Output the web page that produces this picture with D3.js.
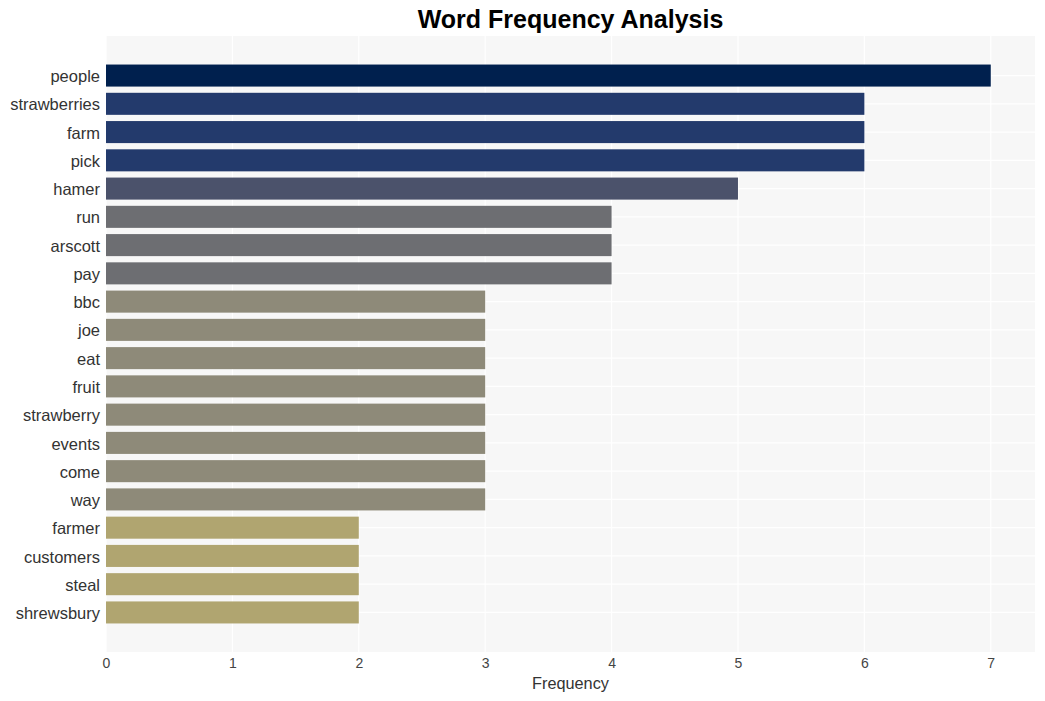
<!DOCTYPE html>
<html>
<head>
<meta charset="utf-8">
<script src="https://cdn.jsdelivr.net/npm/d3@7"></script>
<style>
  body { margin: 0; background: #fff; }
  svg { display: block; font-family: "Liberation Sans", Arial, sans-serif; }
</style>
</head>
<body>
<svg id="chart" width="1045" height="701"></svg>
<script>
const words = ["people","strawberries","farm","pick","hamer","run","arscott","pay","bbc","joe","eat","fruit","strawberry","events","come","way","farmer","customers","steal","shrewsbury"];
const counts = [7,6,6,6,5,4,4,4,3,3,3,3,3,3,3,3,2,2,2,2];
const xTicks = [0,1,2,3,4,5,6,7];
const freqLevels = [7,6,5,4,3,2];
const levelColors = ["#00204e","#233a6c","#4b526b","#6d6e72","#8e8a79","#b0a570"];

(function () {
const data = words.map((w,i) => ({word: w, count: counts[i]}));

const svg = d3.select("#chart");
const pLeft = 106, pRight = 1035, pTop = 36, pBottom = 652;

const x = d3.scaleLinear().domain([0, 7.35]).range([pLeft, pRight]);
const y = d3.scaleBand().domain(words).range([pTop, pBottom]).paddingInner(0.22).paddingOuter(1.01);
const color = d3.scaleOrdinal().domain(freqLevels).range(levelColors);

// panel
svg.append("rect").attr("x", pLeft).attr("y", pTop).attr("width", pRight-pLeft).attr("height", pBottom-pTop).attr("fill", "#f7f7f7");

// grid
svg.append("g").selectAll("line").data(xTicks).join("line")
  .attr("x1", d => x(d)).attr("x2", d => x(d)).attr("y1", pTop).attr("y2", pBottom)
  .attr("stroke", "#ffffff").attr("stroke-width", 1.2);
svg.append("g").selectAll("line").data(words).join("line")
  .attr("x1", pLeft).attr("x2", pRight)
  .attr("y1", d => y(d) + y.bandwidth()/2).attr("y2", d => y(d) + y.bandwidth()/2)
  .attr("stroke", "#ffffff").attr("stroke-width", 1.2);

// bars
svg.append("g").selectAll("rect").data(data).join("rect")
  .attr("x", x(0)).attr("y", d => y(d.word))
  .attr("width", d => x(d.count) - x(0)).attr("height", y.bandwidth())
  .attr("fill", d => color(d.count));

// x axis
const xAxis = svg.append("g").attr("transform", `translate(0,${pBottom})`)
  .call(d3.axisBottom(x).tickValues(xTicks).tickSize(0).tickPadding(6).tickFormat(d3.format("d")));
xAxis.select(".domain").remove();
xAxis.selectAll("text").attr("font-size", 14).attr("fill", "#444").attr("font-family", "Liberation Sans, Arial, sans-serif");

// y axis
const yAxis = svg.append("g").attr("transform", `translate(${pLeft},0)`)
  .call(d3.axisLeft(y).tickSize(0).tickPadding(6));
yAxis.select(".domain").remove();
yAxis.selectAll("text").attr("font-size", 16.5).attr("dy", "0.4em").attr("fill", "#333").attr("font-family", "Liberation Sans, Arial, sans-serif");

// axis title
svg.append("text").attr("x", (pLeft+pRight)/2).attr("y", 689).attr("text-anchor", "middle")
  .attr("font-size", 16.3).attr("fill", "#333").text("Frequency");

// title
svg.append("text").attr("x", (pLeft+pRight)/2).attr("y", 28).attr("text-anchor", "middle")
  .attr("font-size", 25).attr("font-weight", "bold").attr("fill", "#000").text("Word Frequency Analysis");
})();
</script>
</body>
</html>
